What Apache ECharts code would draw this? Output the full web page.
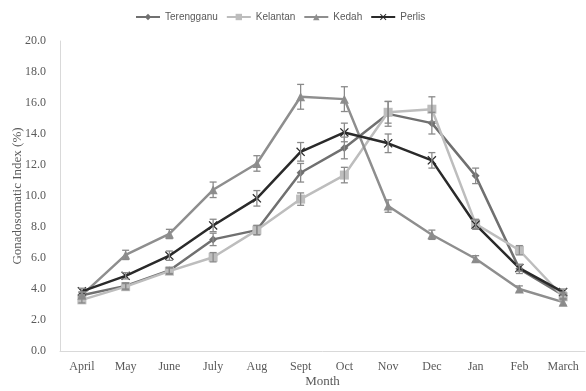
<!DOCTYPE html>
<html>
<head>
<meta charset="utf-8">
<script src="https://cdn.jsdelivr.net/npm/echarts@6/dist/echarts.min.js"></script>
<style>
  html, body { margin: 0; padding: 0; background: #fff; }
  #chart { width: 586px; height: 391px; }
</style>
</head>
<body>
<div id="chart"></div>
<script>
// Monthly gonadosomatic index (%) by state, mean ± error
const months = ['April', 'May', 'June', 'July', 'Aug', 'Sept', 'Oct', 'Nov', 'Dec', 'Jan', 'Feb', 'March'];

const terengganu    = [3.6, 4.2, 5.2, 7.2, 7.8, 11.5, 13.1, 15.3, 14.7, 11.3, 5.3, 3.6];
const terengganuErr = [0.2, 0.2, 0.2, 0.4, 0.3, 0.6, 0.7, 0.8, 0.7, 0.5, 0.3, 0.2];

const kelantan      = [3.3, 4.15, 5.15, 6.05, 7.8, 9.8, 11.35, 15.4, 15.6, 8.2, 6.5, 3.5];
const kelantanErr   = [0.2, 0.2, 0.2, 0.3, 0.3, 0.4, 0.5, 0.7, 0.8, 0.3, 0.3, 0.2];

const kedah         = [3.6, 6.2, 7.55, 10.4, 12.1, 16.4, 16.25, 9.35, 7.5, 5.95, 4.0, 3.15];
const kedahErr      = [0.2, 0.3, 0.3, 0.5, 0.5, 0.8, 0.8, 0.4, 0.3, 0.2, 0.2, 0.2];

const perlis        = [3.85, 4.85, 6.15, 8.1, 9.85, 12.85, 14.1, 13.4, 12.3, 8.15, 5.35, 3.8];
const perlisErr     = [0.2, 0.2, 0.3, 0.4, 0.5, 0.6, 0.6, 0.6, 0.5, 0.3, 0.2, 0.2];

const yTicks = { min: 0, max: 20, step: 2 };

const crossPath = 'path://M0,1 L1,0 L5,4 L9,0 L10,1 L6,5 L10,9 L9,10 L5,6 L1,10 L0,9 L4,5 Z';

const seriesDefs = [
  { name: 'Terengganu', data: terengganu, err: terengganuErr, color: '#707070', symbol: 'diamond', size: 8 },
  { name: 'Kelantan',   data: kelantan,   err: kelantanErr,   color: '#bdbdbd', symbol: 'rect',    size: 9 },
  { name: 'Kedah',      data: kedah,      err: kedahErr,      color: '#8e8e8e', symbol: 'triangle', size: 9 },
  { name: 'Perlis',     data: perlis,     err: perlisErr,     color: '#2a2a2a', symbol: crossPath, size: 9 }
];

const serif = '"Liberation Serif", "Times New Roman", serif';
const sans = '"Liberation Sans", Arial, sans-serif';
const textColor = '#595959';

const series = [];
seriesDefs.forEach(function (d) {
  series.push({
    name: d.name,
    type: 'line',
    data: d.data,
    symbol: d.symbol,
    symbolSize: d.size,
    z: 3,
    lineStyle: { color: d.color, width: 2.5 },
    itemStyle: { color: d.color },
    emphasis: { disabled: true }
  });
  // error bars drawn through the axis coordinate system
  series.push({
    name: d.name,
    type: 'custom',
    z: 4,
    data: d.data.map(function (v, i) { return [i, v - d.err[i], v + d.err[i]]; }),
    renderItem: function (params, api) {
      const lo = api.coord([api.value(0), api.value(1)]);
      const hi = api.coord([api.value(0), api.value(2)]);
      const cap = 3.5;
      const style = { stroke: '#8a8a8a', lineWidth: 1.3 };
      return {
        type: 'group',
        children: [
          { type: 'line', shape: { x1: lo[0], y1: lo[1], x2: hi[0], y2: hi[1] }, style: style },
          { type: 'line', shape: { x1: lo[0] - cap, y1: lo[1], x2: lo[0] + cap, y2: lo[1] }, style: style },
          { type: 'line', shape: { x1: hi[0] - cap, y1: hi[1], x2: hi[0] + cap, y2: hi[1] }, style: style }
        ]
      };
    },
    encode: { x: 0, y: [1, 2] },
    silent: true
  });
});

const chart = echarts.init(document.getElementById('chart'), null, { renderer: 'canvas' });
chart.setOption({
  animation: false,
  backgroundColor: '#ffffff',
  legend: {
    data: seriesDefs.map(function (d) { return d.name; }),
    top: 7,
    left: 130,
    itemWidth: 24,
    itemHeight: 8,
    itemGap: 8,
    textStyle: { fontFamily: sans, fontSize: 10, color: textColor }
  },
  grid: { left: 60, right: 1, top: 41, bottom: 40, containLabel: false, outerBoundsMode: 'none' },
  xAxis: {
    type: 'category',
    data: months,
    boundaryGap: true,
    name: 'Month',
    nameLocation: 'middle',
    nameGap: 24,
    nameMoveOverlap: false,
    nameTextStyle: { fontFamily: serif, fontSize: 13, color: textColor },
    axisLine: { lineStyle: { color: '#d9d9d9', width: 1 } },
    axisTick: { show: false },
    axisLabel: { fontFamily: serif, fontSize: 12, color: textColor, margin: 10, interval: 0 }
  },
  yAxis: {
    type: 'value',
    min: yTicks.min,
    max: yTicks.max,
    interval: yTicks.step,
    name: 'Gonadosomatic Index (%)',
    nameLocation: 'middle',
    nameRotate: 90,
    nameGap: 36,
    nameMoveOverlap: false,
    nameTextStyle: { fontFamily: serif, fontSize: 13, color: textColor },
    axisLine: { show: true, lineStyle: { color: '#d9d9d9', width: 1 } },
    axisTick: { show: false },
    splitLine: { show: false },
    axisLabel: {
      fontFamily: serif, fontSize: 12, color: textColor, margin: 14,
      formatter: function (v) { return v.toFixed(1); }
    }
  },
  series: series
});
</script>
</body>
</html>
